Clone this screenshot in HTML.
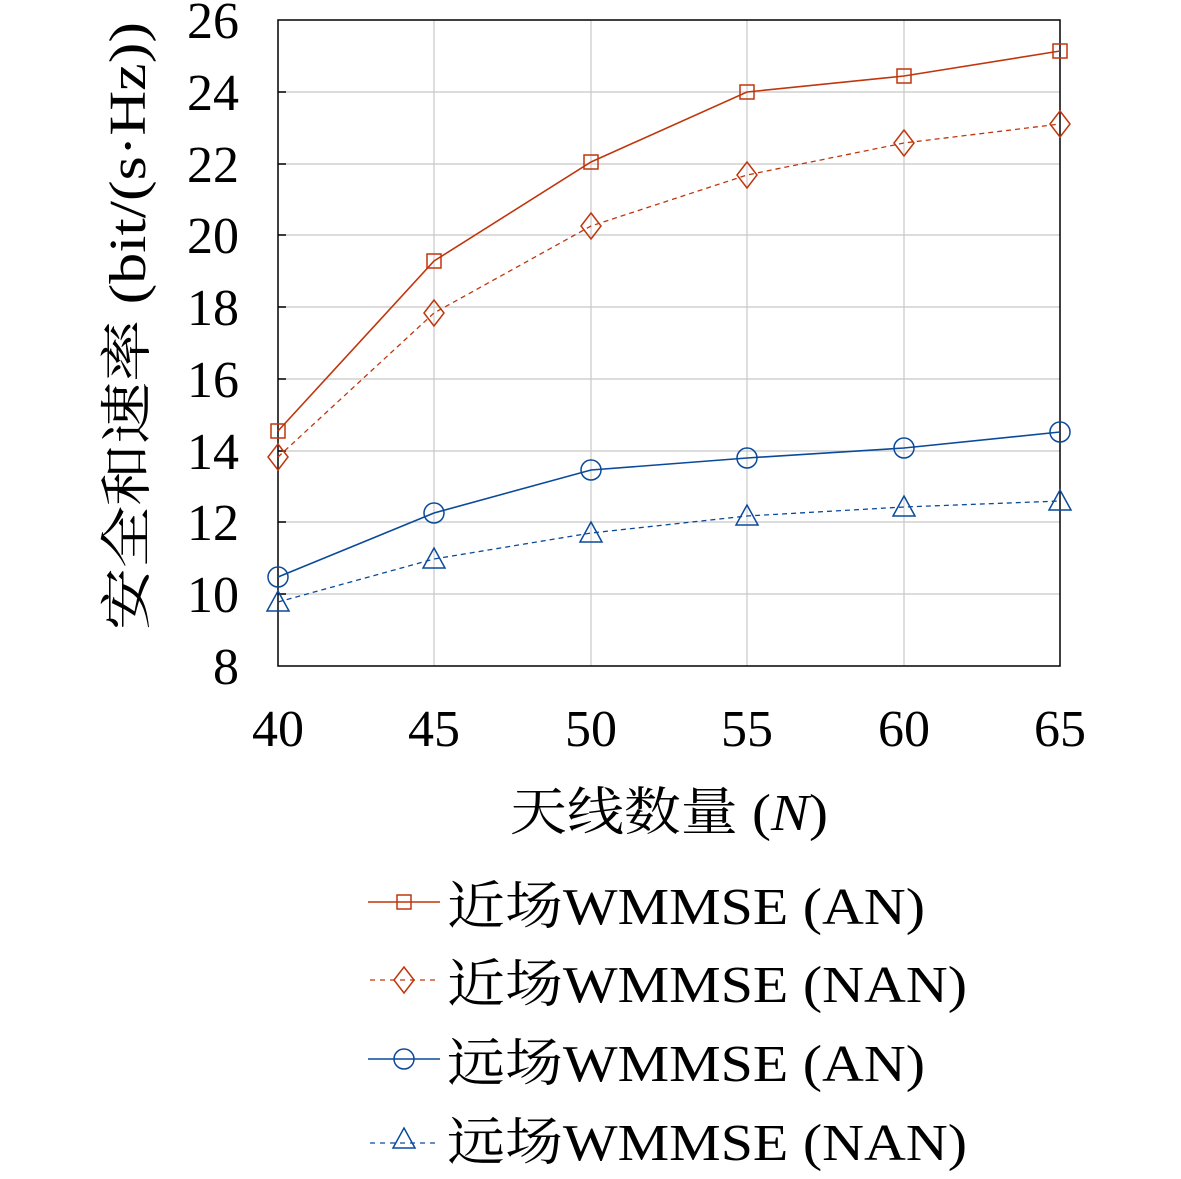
<!DOCTYPE html><html><head><meta charset="utf-8"><style>body{margin:0;background:#fff}svg{display:block}text{font-family:"Liberation Serif","Noto Serif CJK SC",serif;fill:#000}</style></head><body>
<svg width="1181" height="1179" viewBox="0 0 1181 1179">
<defs>
<g id="sq"><rect x="-7" y="-7" width="14" height="14" fill="none" stroke="#c0360c" stroke-width="1.5"/></g>
<g id="di"><path d="M0,-13 L10,0 L0,13 L-10,0Z" fill="none" stroke="#c0360c" stroke-width="1.5"/></g>
<g id="ci"><circle r="10" fill="none" stroke="#0a4a9a" stroke-width="1.5"/></g>
<g id="tr"><path d="M0,-11 L11,9 L-11,9Z" fill="none" stroke="#0a4a9a" stroke-width="1.5"/></g>
</defs>
<g stroke="#c8c8c8" stroke-width="1.2">
<line x1="434" y1="20" x2="434" y2="666"/><line x1="591" y1="20" x2="591" y2="666"/><line x1="747" y1="20" x2="747" y2="666"/><line x1="904" y1="20" x2="904" y2="666"/>
<line x1="278" y1="92" x2="1060" y2="92"/><line x1="278" y1="164" x2="1060" y2="164"/><line x1="278" y1="235" x2="1060" y2="235"/><line x1="278" y1="307" x2="1060" y2="307"/><line x1="278" y1="379" x2="1060" y2="379"/><line x1="278" y1="451" x2="1060" y2="451"/><line x1="278" y1="522" x2="1060" y2="522"/><line x1="278" y1="594" x2="1060" y2="594"/>
</g>
<rect x="278" y="20" width="782" height="646" fill="none" stroke="#000" stroke-width="1.5"/>
<g stroke="#000" stroke-width="1.5">
<line x1="278" y1="92" x2="286" y2="92"/><line x1="278" y1="164" x2="286" y2="164"/><line x1="278" y1="235" x2="286" y2="235"/><line x1="278" y1="307" x2="286" y2="307"/><line x1="278" y1="379" x2="286" y2="379"/><line x1="278" y1="451" x2="286" y2="451"/><line x1="278" y1="522" x2="286" y2="522"/><line x1="278" y1="594" x2="286" y2="594"/>
</g>
<polyline points="278,431 434,261 591,162 747,92 904,76 1060,51" fill="none" stroke="#c0360c" stroke-width="1.6"/>
<polyline points="278,457 434,313 591,226 747,175 904,143 1060,124" fill="none" stroke="#c0360c" stroke-width="1.3" stroke-dasharray="5,4"/>
<polyline points="278,577 434,513 591,470 747,458 904,448 1060,432" fill="none" stroke="#0a4a9a" stroke-width="1.6"/>
<polyline points="278,602 434,559 591,533 747,516 904,507 1060,501" fill="none" stroke="#0a4a9a" stroke-width="1.3" stroke-dasharray="5,4"/>
<use href="#sq" x="278" y="431"/><use href="#sq" x="434" y="261"/><use href="#sq" x="591" y="162"/><use href="#sq" x="747" y="92"/><use href="#sq" x="904" y="76"/><use href="#sq" x="1060" y="51"/>
<use href="#di" x="278" y="457"/><use href="#di" x="434" y="313"/><use href="#di" x="591" y="226"/><use href="#di" x="747" y="175"/><use href="#di" x="904" y="143"/><use href="#di" x="1060" y="124"/>
<use href="#ci" x="278" y="577"/><use href="#ci" x="434" y="513"/><use href="#ci" x="591" y="470"/><use href="#ci" x="747" y="458"/><use href="#ci" x="904" y="448"/><use href="#ci" x="1060" y="432"/>
<use href="#tr" x="278" y="602"/><use href="#tr" x="434" y="559"/><use href="#tr" x="591" y="533"/><use href="#tr" x="747" y="516"/><use href="#tr" x="904" y="507"/><use href="#tr" x="1060" y="501"/>
<g font-size="52" text-anchor="end">
<text x="239" y="38">26</text><text x="239" y="110">24</text><text x="239" y="182">22</text><text x="239" y="253">20</text><text x="239" y="325">18</text><text x="239" y="397">16</text><text x="239" y="469">14</text><text x="239" y="540">12</text><text x="239" y="612">10</text><text x="239" y="684">8</text>
</g>
<g font-size="52" text-anchor="middle">
<text x="278" y="746">40</text><text x="434" y="746">45</text><text x="591" y="746">50</text><text x="747" y="746">55</text><text x="904" y="746">60</text><text x="1060" y="746">65</text>
</g>
<g font-size="52">
<text x="510" y="830" textLength="318" lengthAdjust="spacingAndGlyphs">天线数量 (<tspan font-style="italic">N</tspan>)</text>
<text transform="translate(145,630) rotate(-90)" textLength="608" lengthAdjust="spacingAndGlyphs">安全和速率 (bit/(s·Hz))</text>
</g>
<line x1="368" y1="902" x2="440" y2="902" stroke="#c0360c" stroke-width="1.6"/><use href="#sq" x="404" y="902"/>
<line x1="370" y1="980" x2="440" y2="980" stroke="#c0360c" stroke-width="1.3" stroke-dasharray="5,5"/><use href="#di" x="404" y="980"/>
<line x1="368" y1="1059" x2="440" y2="1059" stroke="#0a4a9a" stroke-width="1.6"/><use href="#ci" x="404" y="1059"/>
<line x1="370" y1="1143" x2="440" y2="1143" stroke="#0a4a9a" stroke-width="1.3" stroke-dasharray="5,5"/><use href="#tr" x="404" y="1139"/>
<g font-size="52">
<text x="447" y="924" textLength="478" lengthAdjust="spacingAndGlyphs">近场WMMSE (AN)</text>
<text x="447" y="1002" textLength="520" lengthAdjust="spacingAndGlyphs">近场WMMSE (NAN)</text>
<text x="447" y="1081" textLength="478" lengthAdjust="spacingAndGlyphs">远场WMMSE (AN)</text>
<text x="447" y="1160" textLength="520" lengthAdjust="spacingAndGlyphs">远场WMMSE (NAN)</text>
</g>
</svg></body></html>
